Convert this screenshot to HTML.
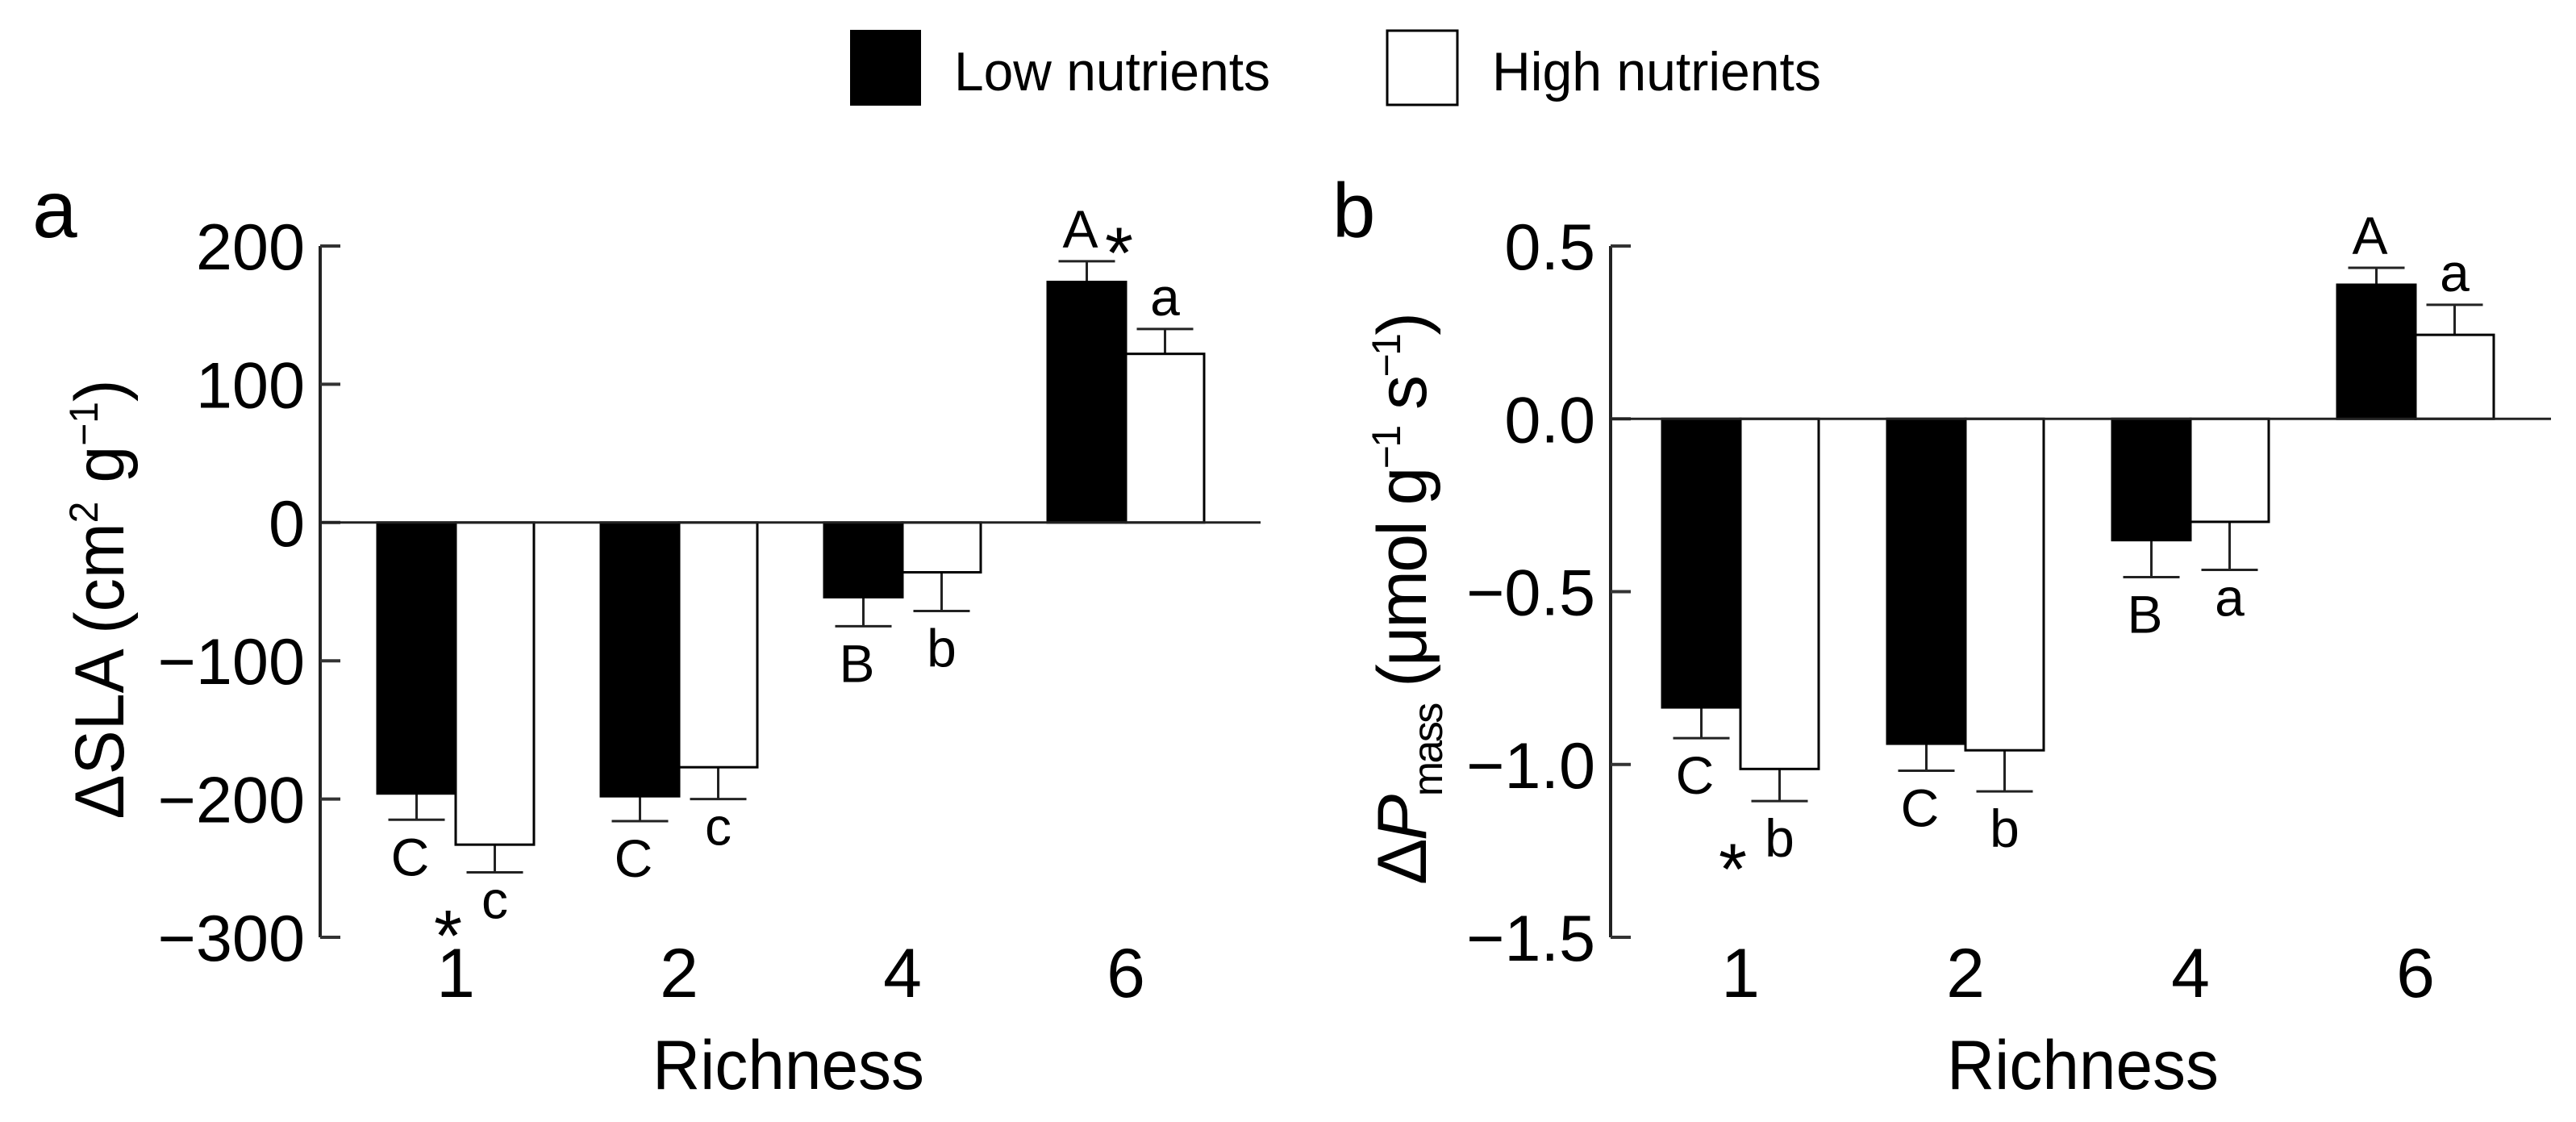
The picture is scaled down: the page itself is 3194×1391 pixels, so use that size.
<!DOCTYPE html>
<html><head><meta charset="utf-8">
<style>
html,body{margin:0;padding:0;background:#fff;}
svg{display:block;font-family:"Liberation Sans",Arial,sans-serif;}
</style></head>
<body>
<svg id="fig" width="3194" height="1391" viewBox="0 0 3194 1391" xmlns="http://www.w3.org/2000/svg">
  <g>
    <rect x="1054" y="37" width="88" height="94" fill="#000"/>
    <text x="1183" y="112" font-size="68" textLength="392" lengthAdjust="spacingAndGlyphs">Low nutrients</text>
    <rect x="1720" y="38" width="87" height="92" fill="#fff" stroke="#000" stroke-width="3"/>
    <text x="1850" y="112" font-size="68" textLength="408" lengthAdjust="spacingAndGlyphs">High nutrients</text>
  </g>
  <text x="40" y="294" font-size="100">a</text>
  <text x="1652" y="294" font-size="96">b</text>
  <text transform="translate(153,743) rotate(-90)" font-size="86" text-anchor="middle" textLength="545" lengthAdjust="spacingAndGlyphs">ΔSLA (cm<tspan font-size="50" dy="-32">2</tspan><tspan dy="32"> g</tspan><tspan font-size="50" dy="-32">−1</tspan><tspan dy="32">)</tspan></text>
  <text transform="translate(1768,742) rotate(-90)" font-size="86" text-anchor="middle" textLength="710" lengthAdjust="spacing">Δ<tspan font-style="italic">P</tspan><tspan font-size="52" dy="20">mass</tspan><tspan dy="-20"> (μmol g</tspan><tspan font-size="50" dy="-32">−1</tspan><tspan dy="32"> s</tspan><tspan font-size="50" dy="-32">−1</tspan><tspan dy="32">)</tspan></text>
  <g id="panelA"></g>
  <g id="panelB"></g>
</svg>
<script>
const categories = ["1","2","4","6"];
// Panel a: ΔSLA
const slaLow = [-196, -198, -54, 174];
const slaLowErr = [-215, -216, -75, 189];
const slaHigh = [-233, -177, -36, 122];
const slaHighErr = [-253, -200, -64, 140];
const slaLowLetters = ["C","C","B","A"];
const slaHighLetters = ["c","c","b","a"];
const slaLowStar = [false,false,false,true];
const slaHighStar = [true,false,false,false];
const slaTicks = [200,100,0,-100,-200,-300];
const slaTickLabels = ["200","100","0","\u2212100","\u2212200","\u2212300"];
// Panel b: ΔPmass
const pLow = [-0.835, -0.94, -0.351, 0.388];
const pLowErr = [-0.924, -1.018, -0.458, 0.437];
const pHigh = [-1.013, -0.959, -0.298, 0.243];
const pHighErr = [-1.106, -1.078, -0.437, 0.33];
const pLowLetters = ["C","C","B","A"];
const pHighLetters = ["b","b","a","a"];
const pLowStar = [false,false,false,false];
const pHighStar = [true,false,false,false];
const pTicks = [0.5,0.0,-0.5,-1.0,-1.5];
const pTickLabels = ["0.5","0.0","\u22120.5","\u22121.0","\u22121.5"];

const NS = "http://www.w3.org/2000/svg";
function mk(parent, tag, attrs, text){
  const e = document.createElementNS(NS, tag);
  for (const k in attrs) e.setAttribute(k, attrs[k]);
  if (text !== undefined) e.textContent = text;
  parent.appendChild(e);
  return e;
}

function drawPanel(g, cfg){
  const yTop = 305, yBot = 1162;
  const yScale = v => yTop + (cfg.max - v) / (cfg.max - cfg.min) * (yBot - yTop);
  const xCenter = i => cfg.axisX + cfg.firstOff + i * cfg.step;
  const bw = 97;
  const ax = mk(g, "line", {x1: cfg.axisX, y1: yTop, x2: cfg.axisX, y2: yBot, stroke: "#222", "stroke-width": 4});
  
  
  cfg.ticks.forEach((t, i) => {
    const y = yScale(t);
    const tk = mk(g, "line", {x1: cfg.axisX, y1: y, x2: cfg.axisX + 25, y2: y, stroke: "#333", "stroke-width": 4});
    
    
    const tl = mk(g, "text", {x: cfg.axisX - 19, y: y + 29, "font-size": 81, "text-anchor": "end"}, cfg.tickLabels[i]);
    
    
  });
  const y0 = yScale(0);
  const LF = 66;
  function bar(i, v, err, fill, letter, star, side){
    const x = side === 0 ? xCenter(i) - bw : xCenter(i);
    const yv = yScale(v);
    const yE = yScale(err);
    const cx = x + bw / 2;
    const eb = mk(g, "line", {x1: cx, y1: yv, x2: cx, y2: yE, stroke: "#222", "stroke-width": 3});
    
    
    const cap = mk(g, "line", {x1: cx - 35, y1: yE, x2: cx + 35, y2: yE, stroke: "#222", "stroke-width": 3});
    
    
    const r = mk(g, "rect", {x: x, y: Math.min(yv, y0), width: bw, height: Math.abs(yv - y0), fill: fill, stroke: "#000", "stroke-width": 3});
    
    
    const tall = /[A-Zb]/.test(letter);
    const h = tall ? 47 : 35;
    const ly = v < 0 ? yE + 22 + h : yE - 17;
    const lx = side === 0 ? cx - 8 : cx;
    const lt = mk(g, "text", {x: lx, y: ly, "font-size": LF, "text-anchor": "middle"}, letter);
    
    
    if (star) {
      const lc = ly - h / 2;
      const sx = v < 0 ? lx - 58 : lx + 48;
      const sc = v < 0 ? lc + 20 : lc + 11;
      const st = mk(g, "text", {x: sx, y: sc + 50, "font-size": 90, "text-anchor": "middle"}, "*");
      
      
    }
  }
  categories.forEach((c, i) => {
    bar(i, cfg.low[i], cfg.lowErr[i], "#000", cfg.lowL[i], cfg.lowS[i], 0);
    bar(i, cfg.high[i], cfg.highErr[i], "#fff", cfg.highL[i], cfg.highS[i], 1);
    const xl = mk(g, "text", {x: xCenter(i), y: 1236, "font-size": 86, "text-anchor": "middle"}, c);
    
    
  });
  const zl = mk(g, "line", {x1: cfg.axisX, y1: y0, x2: cfg.zeroEnd, y2: y0, stroke: "#222", "stroke-width": 3});
  
  
  const xt = mk(g, "text", {x: cfg.xTitleX - 168, y: 1350, "font-size": 86, textLength: 337, lengthAdjust: "spacingAndGlyphs"}, "Richness");
  
  
}

const A = document.getElementById("panelA");
drawPanel(A, {axisX: 397, firstOff: 168, step: 277, zeroEnd: 1563, max: 200, min: -300,
  ticks: slaTicks, tickLabels: slaTickLabels, low: slaLow, lowErr: slaLowErr, high: slaHigh, highErr: slaHighErr,
  lowL: slaLowLetters, highL: slaHighLetters, lowS: slaLowStar, highS: slaHighStar, xTitleX: 977});
const B = document.getElementById("panelB");
drawPanel(B, {axisX: 1997, firstOff: 161, step: 279, zeroEnd: 3163, max: 0.5, min: -1.5,
  ticks: pTicks, tickLabels: pTickLabels, low: pLow, lowErr: pLowErr, high: pHigh, highErr: pHighErr,
  lowL: pLowLetters, highL: pHighLetters, lowS: pLowStar, highS: pHighStar, xTitleX: 2582});
</script>
</body></html>
